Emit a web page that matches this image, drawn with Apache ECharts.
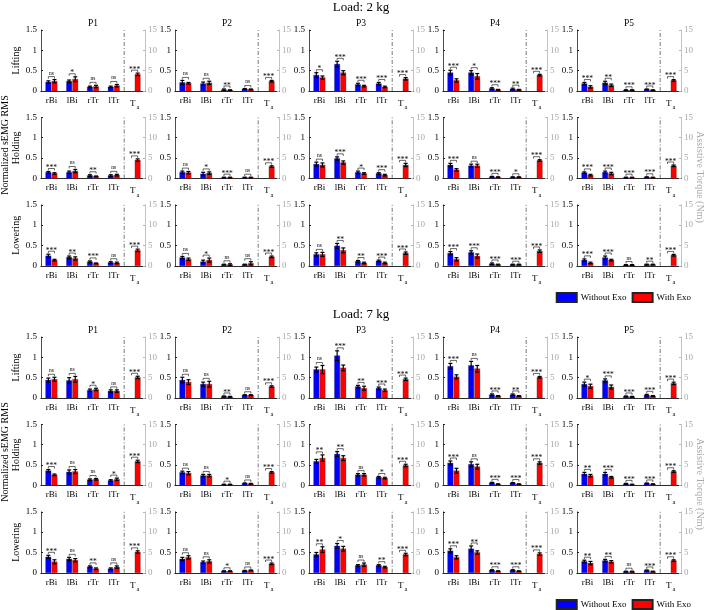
<!DOCTYPE html>
<html><head><meta charset="utf-8">
<script src="https://cdn.jsdelivr.net/npm/echarts@6/dist/echarts.min.js"></script>
<style>html,body{margin:0;padding:0;background:#fff}#c{width:708px;height:610px}</style>
</head><body><div id="c"></div>
<script>
// ---------- data ----------
const loads = ['Load: 2 kg', 'Load: 7 kg'];
const tasks = ['Lifting', 'Holding', 'Lowering'];
const participants = ['P1', 'P2', 'P3', 'P4', 'P5'];
const muscles = ['rBi', 'lBi', 'rTr', 'lTr'];
const categories = ['rBi', 'lBi', 'rTr', 'lTr', 'Ta'];
const leftTicks = [0, 0.5, 1, 1.5];
const rightTicks = [0, 5, 10, 15];

// 2 kg - Lifting (rows: P1..P5, cols: rBi lBi rTr lTr)
const k2LiftWithout   = [[0.22,0.24,0.10,0.10],[0.21,0.18,0.03,0.05],[0.39,0.66,0.16,0.18],[0.45,0.45,0.06,0.05],[0.18,0.20,0.02,0.04]];
const k2LiftWithoutSd = [[0.03,0.03,0.02,0.02],[0.05,0.04,0.02,0.01],[0.06,0.07,0.03,0.03],[0.06,0.05,0.02,0.02],[0.03,0.04,0.01,0.01]];
const k2LiftWith      = [[0.24,0.29,0.11,0.13],[0.19,0.20,0.02,0.04],[0.33,0.45,0.12,0.10],[0.26,0.36,0.03,0.03],[0.10,0.14,0.02,0.02]];
const k2LiftWithSd    = [[0.04,0.06,0.03,0.03],[0.02,0.04,0.01,0.01],[0.04,0.05,0.02,0.02],[0.04,0.07,0.01,0.01],[0.03,0.03,0.01,0.01]];
const k2LiftSig       = [['ns','*','ns','ns'],['ns','ns','**','ns'],['*','***','***','***'],['***','*','***','**'],['***','**','***','***']];
const k2LiftTa        = [4.1, 2.4, 3.0, 3.9, 2.6];
const k2LiftTaSd      = [0.3, 0.2, 0.3, 0.2, 0.2];

// 2 kg - Holding
const k2HoldWithout   = [[0.15,0.15,0.07,0.07],[0.15,0.11,0.02,0.02],[0.35,0.49,0.15,0.12],[0.33,0.31,0.04,0.03],[0.14,0.15,0.02,0.03]];
const k2HoldWithoutSd = [[0.02,0.03,0.02,0.02],[0.03,0.04,0.01,0.01],[0.05,0.04,0.03,0.02],[0.04,0.04,0.01,0.01],[0.02,0.03,0.01,0.01]];
const k2HoldWith      = [[0.12,0.18,0.05,0.08],[0.14,0.13,0.02,0.02],[0.33,0.39,0.12,0.08],[0.21,0.31,0.03,0.03],[0.08,0.12,0.02,0.02]];
const k2HoldWithSd    = [[0.02,0.04,0.01,0.02],[0.03,0.03,0.01,0.01],[0.05,0.04,0.02,0.02],[0.03,0.04,0.01,0.01],[0.02,0.03,0.01,0.01]];
const k2HoldSig       = [['***','ns','**','ns'],['ns','*','***','ns'],['ns','***','*','***'],['***','ns','***','*'],['***','***','***','***']];
const k2HoldTa        = [4.5, 2.9, 3.3, 4.4, 3.1];
const k2HoldTaSd      = [0.3, 0.2, 0.4, 0.2, 0.2];

// 2 kg - Lowering
const k2LowWithout    = [[0.245,0.21,0.10,0.08],[0.20,0.10,0.03,0.03],[0.28,0.49,0.11,0.12],[0.31,0.33,0.05,0.03],[0.14,0.20,0.02,0.03]];
const k2LowWithoutSd  = [[0.04,0.03,0.02,0.02],[0.03,0.04,0.01,0.01],[0.04,0.06,0.02,0.02],[0.04,0.04,0.02,0.01],[0.03,0.04,0.01,0.01]];
const k2LowWith       = [[0.14,0.18,0.06,0.07],[0.16,0.14,0.03,0.06],[0.28,0.38,0.07,0.07],[0.16,0.24,0.03,0.03],[0.07,0.14,0.02,0.03]];
const k2LowWithSd     = [[0.02,0.04,0.01,0.02],[0.03,0.05,0.02,0.04],[0.05,0.06,0.02,0.02],[0.04,0.05,0.01,0.01],[0.02,0.02,0.01,0.01]];
const k2LowSig        = [['***','**','***','ns'],['ns','*','ns','ns'],['ns','**','**','***'],['***','***','***','***'],['***','***','ns','**']];
const k2LowTa         = [3.8, 2.2, 3.1, 3.6, 2.6];
const k2LowTaSd       = [0.3, 0.2, 0.3, 0.3, 0.2];

// 7 kg - Lifting
const k7LiftWithout   = [[0.44,0.43,0.19,0.17],[0.44,0.34,0.04,0.07],[0.70,1.04,0.28,0.24],[0.78,0.80,0.08,0.08],[0.34,0.43,0.04,0.07]];
const k7LiftWithoutSd = [[0.05,0.07,0.03,0.03],[0.07,0.05,0.01,0.01],[0.06,0.12,0.03,0.03],[0.07,0.10,0.02,0.02],[0.05,0.04,0.01,0.02]];
const k7LiftWith      = [[0.46,0.46,0.21,0.17],[0.39,0.34,0.03,0.07],[0.70,0.74,0.24,0.19],[0.52,0.72,0.05,0.05],[0.29,0.27,0.03,0.05]];
const k7LiftWithSd    = [[0.05,0.07,0.03,0.03],[0.06,0.07,0.01,0.01],[0.10,0.07,0.05,0.03],[0.05,0.08,0.01,0.01],[0.05,0.05,0.01,0.01]];
const k7LiftSig       = [['ns','ns','*','ns'],['ns','ns','**','ns'],['ns','***','**','***'],['***','ns','***','**'],['*','***','***','***']];
const k7LiftTa        = [5.05, 2.8, 4.6, 5.1, 3.6];
const k7LiftTaSd      = [0.3, 0.2, 0.3, 0.2, 0.3];

// 7 kg - Holding
const k7HoldWithout   = [[0.36,0.33,0.14,0.12],[0.32,0.24,0.02,0.05],[0.59,0.77,0.26,0.20],[0.55,0.52,0.065,0.06],[0.28,0.28,0.04,0.05]];
const k7HoldWithoutSd = [[0.03,0.05,0.02,0.02],[0.03,0.03,0.01,0.01],[0.05,0.06,0.03,0.02],[0.05,0.06,0.01,0.01],[0.04,0.04,0.01,0.01]];
const k7HoldWith      = [[0.26,0.34,0.15,0.15],[0.30,0.24,0.02,0.04],[0.67,0.67,0.26,0.18],[0.36,0.46,0.03,0.03],[0.24,0.20,0.02,0.03]];
const k7HoldWithSd    = [[0.02,0.05,0.02,0.03],[0.04,0.03,0.01,0.01],[0.08,0.06,0.03,0.02],[0.06,0.06,0.01,0.01],[0.03,0.02,0.01,0.01]];
const k7HoldSig       = [['***','ns','ns','*'],['ns','ns','*','ns'],['**','**','ns','*'],['***','ns','***','***'],['**','***','***','***']];
const k7HoldTa        = [5.9, 3.2, 4.9, 5.5, 3.4];
const k7HoldTaSd      = [0.3, 0.2, 0.3, 0.3, 0.2];

// 7 kg - Lowering
const k7LowWithout    = [[0.39,0.34,0.15,0.10],[0.34,0.26,0.04,0.05],[0.45,0.66,0.18,0.18],[0.54,0.59,0.065,0.065],[0.28,0.30,0.03,0.06]];
const k7LowWithoutSd  = [[0.04,0.04,0.02,0.02],[0.04,0.03,0.01,0.01],[0.05,0.06,0.02,0.02],[0.05,0.07,0.01,0.01],[0.03,0.03,0.01,0.01]];
const k7LowWith       = [[0.27,0.31,0.10,0.14],[0.38,0.28,0.04,0.06],[0.57,0.59,0.20,0.14],[0.38,0.50,0.04,0.04],[0.24,0.27,0.03,0.03]];
const k7LowWithSd     = [[0.05,0.04,0.02,0.03],[0.04,0.04,0.01,0.01],[0.07,0.06,0.04,0.02],[0.04,0.04,0.01,0.01],[0.04,0.03,0.01,0.01]];
const k7LowSig        = [['***','ns','**','ns'],['ns','ns','*','ns'],['**','*','ns','**'],['***','**','***','***'],['**','**','ns','***']];
const k7LowTa         = [5.1, 2.2, 4.5, 4.6, 3.0];
const k7LowTaSd       = [0.3, 0.2, 0.3, 0.3, 0.2];

const blocks = [
  [
    {wo:k2LiftWithout, woSd:k2LiftWithoutSd, w:k2LiftWith, wSd:k2LiftWithSd, sig:k2LiftSig, ta:k2LiftTa, taSd:k2LiftTaSd},
    {wo:k2HoldWithout, woSd:k2HoldWithoutSd, w:k2HoldWith, wSd:k2HoldWithSd, sig:k2HoldSig, ta:k2HoldTa, taSd:k2HoldTaSd},
    {wo:k2LowWithout,  woSd:k2LowWithoutSd,  w:k2LowWith,  wSd:k2LowWithSd,  sig:k2LowSig,  ta:k2LowTa,  taSd:k2LowTaSd}
  ],
  [
    {wo:k7LiftWithout, woSd:k7LiftWithoutSd, w:k7LiftWith, wSd:k7LiftWithSd, sig:k7LiftSig, ta:k7LiftTa, taSd:k7LiftTaSd},
    {wo:k7HoldWithout, woSd:k7HoldWithoutSd, w:k7HoldWith, wSd:k7HoldWithSd, sig:k7HoldSig, ta:k7HoldTa, taSd:k7HoldTaSd},
    {wo:k7LowWithout,  woSd:k7LowWithoutSd,  w:k7LowWith,  wSd:k7LowWithSd,  sig:k7LowSig,  ta:k7LowTa,  taSd:k7LowTaSd}
  ]
];

// ---------- styling ----------
const FONT = 'Liberation Serif';
const BLUE = '#0000ff', RED = '#ff0000';
const GRAY_AX = '#b4b4b4', GRAY_TXT = '#a8a8a8';

function sigText(x, yb, s) {
  const ns = s === 'ns';
  return {type:'text', x:x, y: yb + (ns ? -0.5 : 3.6),
    style:{text: s, fontFamily: FONT, fontSize: ns ? 5.5 : 7.5, fill:'#000', align:'center', verticalAlign:'bottom'}};
}
function errBar(children, x, y1, y2) {
  children.push({type:'line', shape:{x1:x, y1:y1, x2:x, y2:y2}, style:{stroke:'#000', lineWidth:1.2}});
  children.push({type:'line', shape:{x1:x-2, y1:y1, x2:x+2, y2:y1}, style:{stroke:'#000', lineWidth:1.2}});
  children.push({type:'line', shape:{x1:x-2, y1:y2, x2:x+2, y2:y2}, style:{stroke:'#000', lineWidth:1.2}});
}
function bracket(children, x0, x1, yb) {
  children.push({type:'polyline', shape:{points:[[x0, yb+2],[x0, yb],[x1, yb],[x1, yb+2]]},
    style:{stroke:'#000', lineWidth:0.6, fill:null}});
}

function makePairRender(sigRow) {
  return function (params, api) {
    const i = api.value(0);
    const base = api.coord([i, 0]);
    const band = api.size([1, 0])[0];
    const bw = band * 0.26;
    const xs = [base[0] - bw/2 - 0.35, base[0] + bw/2 + 0.35];
    const vals = [[api.value(1), api.value(2)], [api.value(3), api.value(4)]];
    const children = [];
    vals.forEach(([m], k) => {
      const yT = api.coord([i, m])[1];
      children.push({type:'rect', shape:{x: xs[k]-bw/2, y: yT, width: bw, height: base[1]-yT},
        style:{fill: k ? RED : BLUE, stroke:'#333', lineWidth:0.3}});
    });
    let topY = Infinity;
    vals.forEach(([m, e], k) => {
      const y1 = api.coord([i, m + e])[1];
      const y2 = api.coord([i, Math.max(0, m - e)])[1];
      errBar(children, xs[k], y1, y2);
      topY = Math.min(topY, y1);
    });
    const yb = topY - 3;
    bracket(children, xs[0], xs[1], yb);
    children.push(sigText((xs[0]+xs[1])/2, yb, sigRow[i]));
    if (i === 3) {
      const xd = base[0] + band/2;
      const yTop = api.coord([i, 1.5])[1];
      children.push({type:'line', shape:{x1:xd, y1:base[1], x2:xd, y2:yTop},
        style:{stroke:'#555', lineWidth:0.8, lineDash:[4,2,1,2]}});
    }
    return {type:'group', children};
  };
}
function makeTaRender() {
  return function (params, api) {
    const i = api.value(0);
    const base = api.coord([i, 0]);
    const band = api.size([1, 0])[0];
    const bw = band * 0.26;
    const xs = [base[0] - bw/2 - 0.35, base[0] + bw/2 + 0.35];
    const m = api.value(1), e = api.value(2);
    const children = [];
    const yT = api.coord([i, m])[1];
    children.push({type:'rect', shape:{x: xs[1]-bw/2, y: yT, width: bw, height: base[1]-yT},
      style:{fill: RED, stroke:'#333', lineWidth:0.3}});
    const y1 = api.coord([i, m + e])[1];
    const y2 = api.coord([i, m - e])[1];
    errBar(children, xs[1], y1, y2);
    const yb = y1 - 3;
    bracket(children, xs[0], xs[1], yb);
    children.push(sigText((xs[0]+xs[1])/2, yb, '***'));
    return {type:'group', children};
  };
}

// ---------- build option ----------
const grids = [], xAxes = [], yAxes = [], series = [];
const rowTop = [[30, 117.4, 204.8], [337, 424.4, 511.8]];
const colLeft = [41, 175, 309, 443, 577];
const PW = 104, PH = 61;

loads.forEach((load, L) => {
  tasks.forEach((task, T) => {
    const B = blocks[L][T];
    participants.forEach((p, P) => {
      const g = grids.length;
      grids.push({left: colLeft[P], top: rowTop[L][T], width: PW, height: PH, containLabel:false});
      xAxes.push({
        type:'category', gridIndex:g, data: categories, position:'bottom',
        axisLine:{lineStyle:{color:'#222', width:0.8}},
        axisTick:{inside:true, length:2, alignWithLabel:true, lineStyle:{color:'#222'}},
        axisLabel:{
          margin:5, color:'#000', fontFamily:FONT, fontSize:9, interval:0,
          formatter: v => v === 'Ta' ? '{t|T}{s|a}' : v,
          rich:{ t:{fontFamily:FONT, fontSize:9, color:'#000'},
                 s:{fontFamily:FONT, fontSize:6.5, color:'#000', padding:[8,0,0,1]} }
        }
      });
      xAxes.push({
        type:'category', gridIndex:g, data: categories, position:'top',
        name: T === 0 ? p : '', nameLocation:'middle', nameGap:2,
        nameTextStyle:{fontFamily:FONT, fontSize:9.5, color:'#000'},
        axisLine:{lineStyle:{color:'#222', width:0.8}},
        axisTick:{inside:true, length:2, alignWithLabel:true, lineStyle:{color:'#222'}},
        axisLabel:{show:false}
      });
      yAxes.push({
        type:'value', gridIndex:g, position:'left', min:0, max:1.5, interval:0.5,
        name: P === 0 ? task : '', nameLocation:'middle', nameGap:15,
        nameTextStyle:{fontFamily:FONT, fontSize:10, color:'#000'},
        axisLine:{show:true, lineStyle:{color:'#222', width:0.8}},
        axisTick:{show:true, inside:true, length:2, lineStyle:{color:'#222'}},
        splitLine:{show:false},
        axisLabel:{margin:4, color:'#000', fontFamily:FONT, fontSize:9,
          formatter: v => leftTicks.includes(v) ? String(v) : ''}
      });
      yAxes.push({
        type:'value', gridIndex:g, position:'right', min:0, max:15, interval:5,
        axisLine:{show:true, lineStyle:{color:GRAY_AX, width:0.8}},
        axisTick:{show:true, inside:true, length:2, lineStyle:{color:GRAY_AX}},
        splitLine:{show:false},
        axisLabel:{margin:3, color:GRAY_TXT, fontFamily:FONT, fontSize:9,
          formatter: v => rightTicks.includes(v) ? String(v) : ''}
      });
      series.push({
        type:'custom', xAxisIndex: 2*g, yAxisIndex: 2*g, silent:true, z:3,
        encode:{x:0, y:1},
        data: muscles.map((m, i) => [i, B.wo[P][i], B.woSd[P][i], B.w[P][i], B.wSd[P][i]]),
        renderItem: makePairRender(B.sig[P])
      });
      series.push({
        type:'custom', xAxisIndex: 2*g, yAxisIndex: 2*g+1, silent:true, z:3,
        encode:{x:0, y:1},
        data: [[4, B.ta[P], B.taSd[P]]],
        renderItem: makeTaRender()
      });
    });
  });
});

// legend carrier series
series.push({name:'Without Exo', type:'bar', xAxisIndex:0, yAxisIndex:0, data:[], itemStyle:{color:BLUE, borderColor:'#222', borderWidth:0.5}});
series.push({name:'With Exo', type:'bar', xAxisIndex:0, yAxisIndex:0, data:[], itemStyle:{color:RED, borderColor:'#222', borderWidth:0.5}});

const legendCommon = {
  data:['Without Exo','With Exo'], right:12, icon:'rect', itemWidth:20, itemHeight:9, itemGap:5,
  selectedMode:false, textStyle:{fontFamily:FONT, fontSize:9, color:'#000', padding:[0,0,0,-1]}
};

const option = {
  animation:false,
  backgroundColor:'#fff',
  title:[
    {text: loads[0], left: 361, top: 1, padding:0, textAlign:'center', textStyle:{fontFamily:FONT, fontSize:13, fontWeight:'normal', color:'#000'}},
    {text: loads[1], left: 361, top: 308, padding:0, textAlign:'center', textStyle:{fontFamily:FONT, fontSize:13, fontWeight:'normal', color:'#000'}}
  ],
  legend:[
    Object.assign({top:287}, legendCommon),
    Object.assign({top:594}, legendCommon)
  ],
  grid: grids, xAxis: xAxes, yAxis: yAxes, series: series,
  graphic:[
    {type:'text', x:5, y:145, rotation:Math.PI/2, style:{text:'Normalized sEMG RMS', fontFamily:FONT, fontSize:10, fill:'#000', align:'center', verticalAlign:'middle'}},
    {type:'text', x:5, y:452, rotation:Math.PI/2, style:{text:'Normalized sEMG RMS', fontFamily:FONT, fontSize:10, fill:'#000', align:'center', verticalAlign:'middle'}},
    {type:'text', x:700, y:177, rotation:-Math.PI/2, style:{text:'Assistive Torque (Nm)', fontFamily:FONT, fontSize:10, fill:GRAY_TXT, align:'center', verticalAlign:'middle'}},
    {type:'text', x:700, y:484, rotation:-Math.PI/2, style:{text:'Assistive Torque (Nm)', fontFamily:FONT, fontSize:10, fill:GRAY_TXT, align:'center', verticalAlign:'middle'}}
  ]
};

const chart = echarts.init(document.getElementById('c'), null, {renderer:'canvas'});
chart.setOption(option);
</script>
</body></html>
